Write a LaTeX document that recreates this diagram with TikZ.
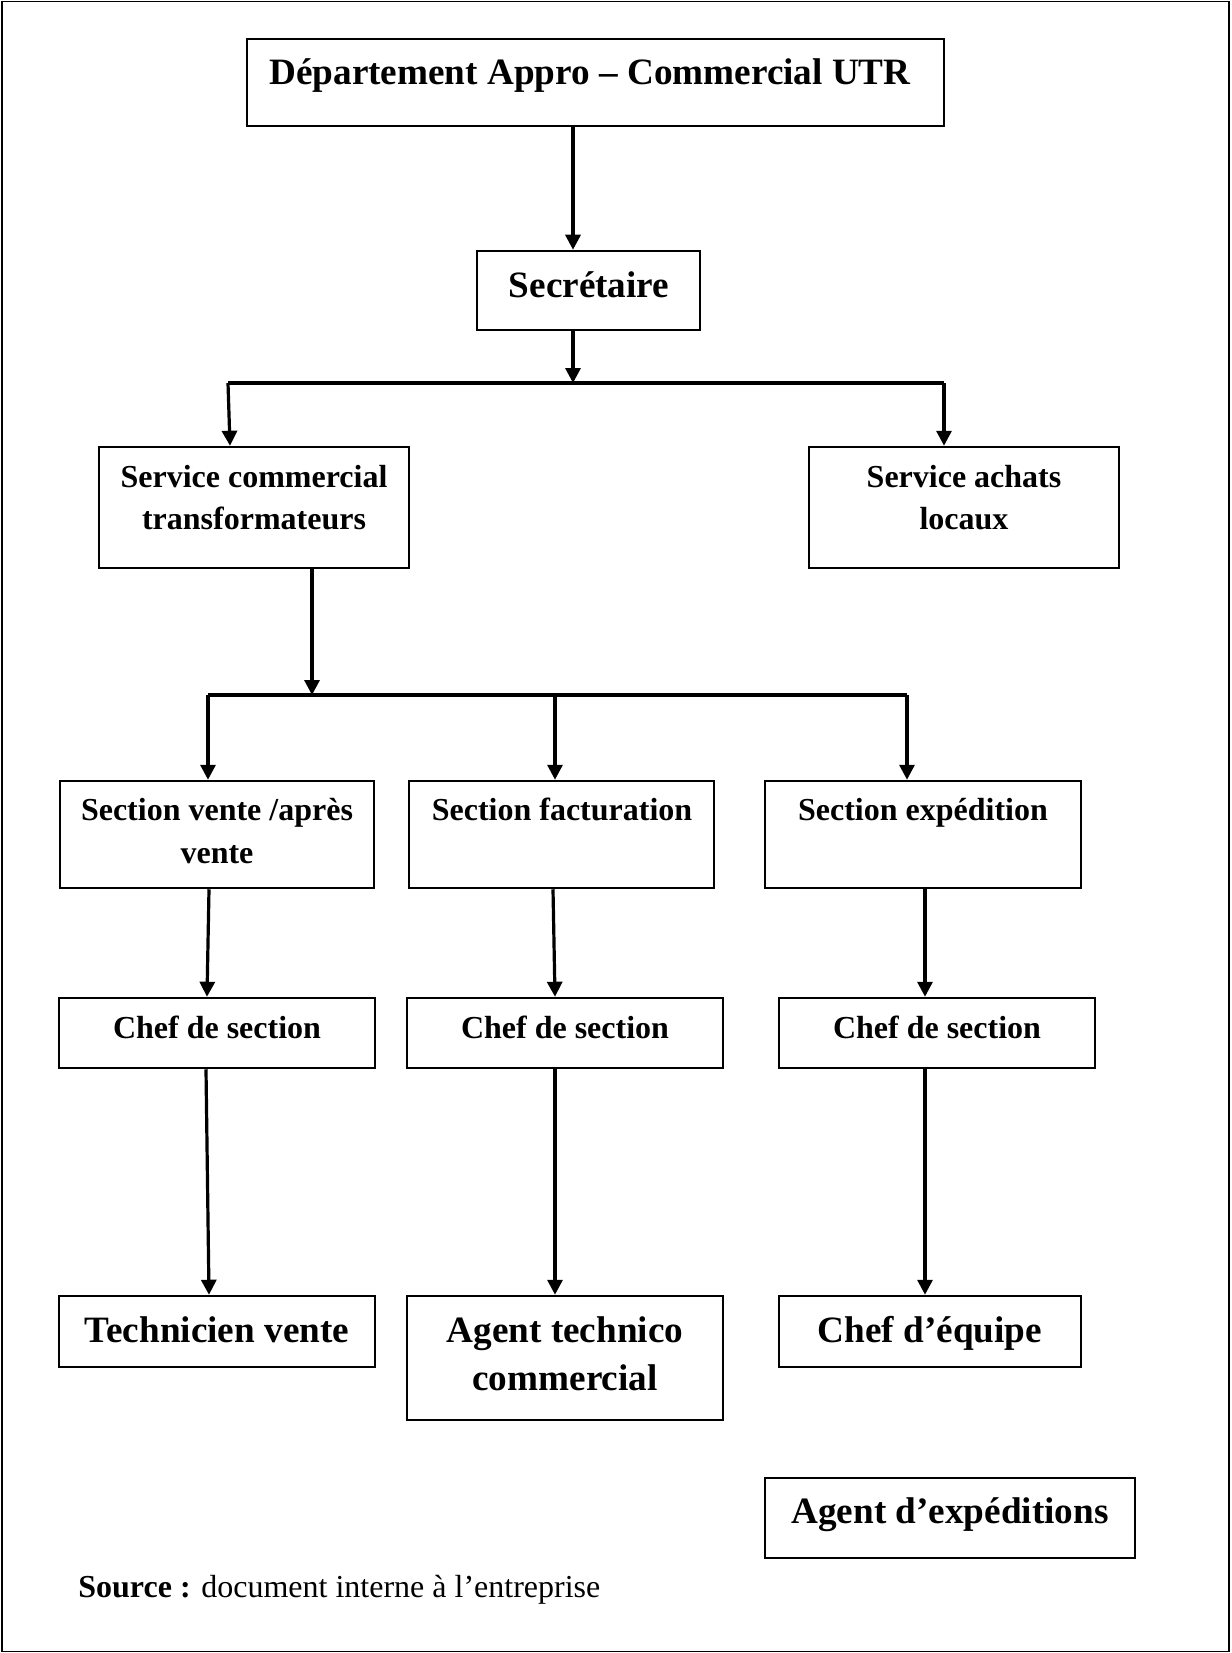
\documentclass[tikz,border=0pt]{standalone}
\usepackage{fontspec}
\setmainfont{Liberation Serif}
\usetikzlibrary{arrows.meta,fit}
\begin{document}
\begin{tikzpicture}[x=0.5pt,y=-0.5pt,
  box/.style={draw, line width=1.25pt, inner sep=0pt},
  tsmall/.style={font=\bfseries\fontsize{16}{19}\selectfont, inner sep=0pt, anchor=base},
  tbig/.style={font=\bfseries\fontsize{18.6}{22}\selectfont, inner sep=0pt, anchor=base},
  arr/.style={line width=1.6pt, -{Triangle[length=7.5pt,width=7.5pt]}},
  bar/.style={line width=2pt}]
\useasboundingbox (0,0) rectangle (1231,1653);
\fill[white] (0,0) rectangle (1231,1653);
\draw[line width=0.7pt] (2,1.5) rectangle (1229,1651.5);

% boxes
\node[box, fit={(247,39)(944,126)}] (dep) {};
\node[tbig] (dep-t) at (590,85) {Département Appro – Commercial UTR};
\node[box, fit={(477,251)(700,330)}] (sec) {};
\node[tbig] (sec-t) at (589,297) {Secrétaire};
\node[box, fit={(99,447)(409,568)}] (sct) {};
\node[tsmall] (sct-t1) at (254,487) {Service commercial};
\node[tsmall] (sct-t2) at (254,529) {transformateurs};
\node[box, fit={(809,447)(1119,568)}] (sal) {};
\node[tsmall] (sal-t1) at (964,487) {Service achats};
\node[tsmall] (sal-t2) at (964,529) {locaux};

\node[box, fit={(60,781)(374,888)}] (sva) {};
\node[tsmall] (sva-t1) at (217,820) {Section vente /après};
\node[tsmall] (sva-t2) at (217,863) {vente};
\node[box, fit={(409,781)(714,888)}] (sfa) {};
\node[tsmall] (sfa-t) at (562,820) {Section facturation};
\node[box, fit={(765,781)(1081,888)}] (sex) {};
\node[tsmall] (sex-t) at (923,820) {Section expédition};

\node[box, fit={(59,998)(375,1068)}] (ca) {};
\node[tsmall] (ca-t) at (217,1038) {Chef de section};
\node[box, fit={(407,998)(723,1068)}] (cb) {};
\node[tsmall] (cb-t) at (565,1038) {Chef de section};
\node[box, fit={(779,998)(1095,1068)}] (cc) {};
\node[tsmall] (cc-t) at (937,1038) {Chef de section};

\node[box, fit={(59,1296)(375,1367)}] (tv) {};
\node[tbig] (tv-t) at (217,1342) {Technicien vente};
\node[box, fit={(407,1296)(723,1420)}] (atc) {};
\node[tbig] (atc-t1) at (565,1342) {Agent technico};
\node[tbig] (atc-t2) at (565,1390) {commercial};
\node[box, fit={(779,1296)(1081,1367)}] (cde) {};
\node[tbig] (cde-t) at (930,1342) {Chef d’équipe};

\node[box, fit={(765,1478)(1135,1558)}] (aex) {};
\node[tbig] (aex-t) at (950,1523) {Agent d’expéditions};

\node[font=\fontsize{16}{19}\selectfont, anchor=base west, inner sep=0pt] (src) at (78,1597) {\textbf{Source :} document interne à l’entreprise};

% connectors
\coordinate (x1) at (573,0);
\coordinate (b1l) at (228,383);
\coordinate (b1m) at (573,383);
\coordinate (b1r) at (944,383);
\coordinate (b2l) at (208,695);
\coordinate (b2m) at (312,695);
\coordinate (b2c) at (555,695);
\coordinate (b2r) at (907,695);

\draw[arr] (dep.south -| x1) -- (sec.north -| x1);
\draw[bar] (b1l) -- (b1r);
\draw[arr] (sec.south -| x1) -- (b1m);
\draw[arr] (b1l) -- (sct.north -| 230,0);
\draw[arr] (b1r) -- (sal.north -| b1r);

\draw[arr] (sct.south -| b2m) -- (b2m);
\draw[bar] (b2l) -- (b2r);
\draw[arr] (b2l) -- (sva.north -| b2l);
\draw[arr] (b2c) -- (sfa.north -| b2c);
\draw[arr] (b2r) -- (sex.north -| b2r);

\draw[arr] (sva.south -| 209,0) -- (ca.north -| 207,0);
\draw[arr] (sfa.south -| 553,0) -- (cb.north -| 555,0);
\draw[arr] (sex.south -| 925,0) -- (cc.north -| 925,0);

\draw[arr] (ca.south -| 206,0) -- (tv.north -| 209,0);
\draw[arr] (cb.south -| 555,0) -- (atc.north -| 555,0);
\draw[arr] (cc.south -| 925,0) -- (cde.north -| 925,0);
\end{tikzpicture}
\end{document}
